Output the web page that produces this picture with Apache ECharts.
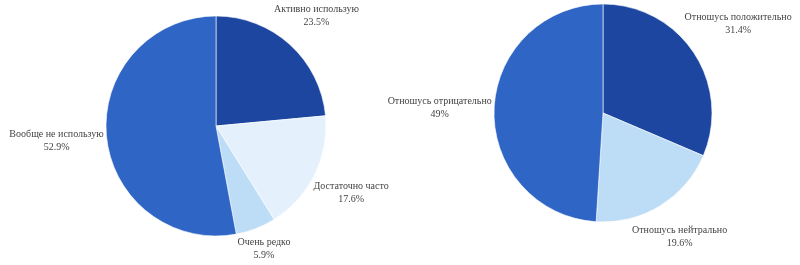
<!DOCTYPE html>
<html><head><meta charset="utf-8">
<script src="https://cdn.jsdelivr.net/npm/echarts@6/dist/echarts.min.js"></script>
<style>html,body{margin:0;padding:0;background:#fff}#c{width:800px;height:265px}</style>
</head><body><div id="c"></div>
<script>
const leftNames = ['Активно использую','Достаточно часто','Очень редко','Вообще не использую'];
const leftValues = [23.5, 17.6, 5.9, 52.9];
const leftColors = ['#1c46a0','#e4f1fd','#bddcf6','#2f65c5'];
const rightNames = ['Отношусь положительно','Отношусь нейтрально','Отношусь отрицательно'];
const rightValues = [31.4, 19.6, 49];
const rightColors = ['#1c46a0','#bddcf6','#2f65c5'];

const pies = [
  {names: leftNames, values: leftValues, colors: leftColors, cx: 216, cy: 126, r: 110},
  {names: rightNames, values: rightValues, colors: rightColors, cx: 603, cy: 113, r: 109}
];

function midDirs(values){
  const sum = values.reduce((a,b)=>a+b,0);
  let acc = 0;
  return values.map(v=>{
    const a = (acc + v/2)/sum*2*Math.PI; acc += v;
    return [Math.sin(a), -Math.cos(a)];
  });
}

const chart = echarts.init(document.getElementById('c'), null, {renderer:'canvas'});
const series = pies.map((p, si)=>{
  const dirs = midDirs(p.values);
  return {
    type:'pie',
    center:[p.cx, p.cy],
    radius:[0, p.r],
    startAngle:90,
    clockwise:true,
    animation:false,
    silent:true,
    avoidLabelOverlap:false,
    itemStyle:{borderColor:'#ffffff', borderWidth:0.6},
    label:{
      show:true, position:'outside', overflow:'none',
      formatter:'{t|{b}}\n{t|{c}%}',
      rich:{t:{fontFamily:'Liberation Serif, DejaVu Serif, serif', fontSize:10, color:'#444444', lineHeight:13, align:'center'}}
    },
    labelLine:{show:false, length:5, length2:0},
    labelLayout:function(params){
      const d = dirs[params.dataIndex];
      const w = params.labelRect.width, h = params.labelRect.height;
      const ext = Math.abs(d[0])*w/2 + Math.abs(d[1])*h/2;
      const dist = p.r + 2 + ext;
      return {x: p.cx + d[0]*dist, y: p.cy + d[1]*dist, align:'center', verticalAlign:'middle'};
    },
    data: p.names.map((n,i)=>({name:n, value:p.values[i], itemStyle:{color:p.colors[i]}}))
  };
});
chart.setOption({backgroundColor:'#ffffff', animation:false, series});
</script></body></html>
